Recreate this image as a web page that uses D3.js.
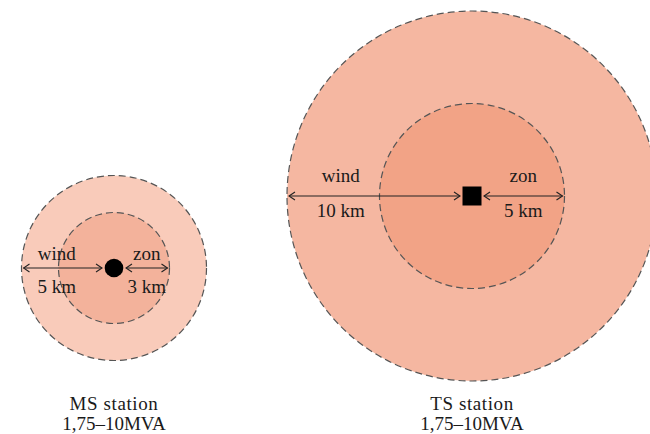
<!DOCTYPE html>
<html>
<head>
<meta charset="utf-8">
<script src="https://cdn.jsdelivr.net/npm/d3@7"></script>
<style>
  body { margin: 0; background: #fff; }
  text { font-family: "Liberation Serif", serif; fill: #1a1a1a; }
</style>
</head>
<body>
<div id="wrapper"></div>
<script>
// data
const stations = ["MS station", "TS station"];
const ratings = ["1,75–10MVA", "1,75–10MVA"];
const windKm = [5, 10];
const zonKm = [3, 5];
const markers = ["circle", "square"];

const W = 650, H = 434;
const svg = d3.select("#wrapper").append("svg").attr("width", W).attr("height", H);

// km -> px
const r = d3.scaleLinear().domain([0, 10]).range([0, 185]);
const cx = d3.scaleOrdinal().domain(stations).range([114, 472]);
const cy = d3.scaleOrdinal().domain(stations).range([268, 196]);
const outerFill = d3.scaleOrdinal().domain(stations).range(["#f9cbba", "#f5b7a1"]);
const innerFill = d3.scaleOrdinal().domain(stations).range(["#f3b29b", "#f2a386"]);
// where the wind label sits along the radius (fraction from centre)
const windPos = d3.scaleOrdinal().domain(stations).range([0.62, 0.71]);
const windDy = d3.scaleOrdinal().domain(stations).range([[-8, 25], [-14, 21]]);

svg.append("defs").append("marker")
  .attr("id", "head").attr("viewBox", "-1 -5 8 10")
  .attr("markerUnits", "userSpaceOnUse")
  .attr("markerWidth", 8).attr("markerHeight", 10)
  .attr("refX", 6).attr("refY", 0).attr("orient", "auto-start-reverse")
  .append("path").attr("d", "M0,-4L6,0L0,4")
  .attr("fill", "none").attr("stroke", "#222").attr("stroke-width", 1.1);

const data = stations.map((s, i) => ({ name: s, rating: ratings[i], wind: windKm[i], zon: zonKm[i], marker: markers[i] }));

const g = svg.selectAll(".station").data(data).enter().append("g").attr("class", "station")
  .attr("transform", d => `translate(${cx(d.name)},${cy(d.name)})`);

g.append("circle").attr("r", d => r(d.wind))
  .attr("fill", d => outerFill(d.name))
  .attr("stroke", "#555").attr("stroke-width", 1.2).attr("stroke-dasharray", "7,4");
g.append("circle").attr("r", d => r(d.zon))
  .attr("fill", d => innerFill(d.name))
  .attr("stroke", "#555").attr("stroke-width", 1.2).attr("stroke-dasharray", "7,4");

const half = 10;
g.each(function(d) {
  const el = d3.select(this);
  if (d.marker === "circle") {
    el.append("circle").attr("r", 9.3).attr("fill", "#000");
  } else {
    el.append("rect").attr("x", -9.5).attr("y", -9.5).attr("width", 19).attr("height", 19).attr("fill", "#000");
  }
  // wind arrow (left)
  el.append("line").attr("x1", -r(d.wind) + 2).attr("x2", -half - 2).attr("y1", 0).attr("y2", 0)
    .attr("stroke", "#222").attr("stroke-width", 1.1)
    .attr("marker-start", "url(#head)").attr("marker-end", "url(#head)");
  // zon arrow (right)
  el.append("line").attr("x1", half + 2).attr("x2", r(d.zon) - 2).attr("y1", 0).attr("y2", 0)
    .attr("stroke", "#222").attr("stroke-width", 1.1)
    .attr("marker-start", "url(#head)").attr("marker-end", "url(#head)");

  const wx = -r(d.wind) * windPos(d.name);
  const zx = (half + 2 + r(d.zon) - 2) / 2;
  const dy = windDy(d.name);
  el.append("text").attr("x", wx).attr("y", dy[0]).attr("text-anchor", "middle").attr("font-size", 19).text("wind");
  el.append("text").attr("x", wx).attr("y", dy[1]).attr("text-anchor", "middle").attr("font-size", 19).text(d.wind + " km");
  el.append("text").attr("x", zx).attr("y", dy[0]).attr("text-anchor", "middle").attr("font-size", 19).text("zon");
  el.append("text").attr("x", zx).attr("y", dy[1]).attr("text-anchor", "middle").attr("font-size", 19).text(d.zon + " km");
});

// captions, two lines each
svg.selectAll(".cap").data(data).enter().append("text").attr("class", "cap")
  .attr("text-anchor", "middle").attr("font-size", 19).attr("letter-spacing", 0.6)
  .attr("x", d => cx(d.name)).attr("y", 410).text(d => d.name);
svg.selectAll(".rating").data(data).enter().append("text").attr("class", "rating")
  .attr("text-anchor", "middle").attr("font-size", 19)
  .attr("x", d => cx(d.name)).attr("y", 430).text(d => d.rating);
</script>
</body>
</html>
